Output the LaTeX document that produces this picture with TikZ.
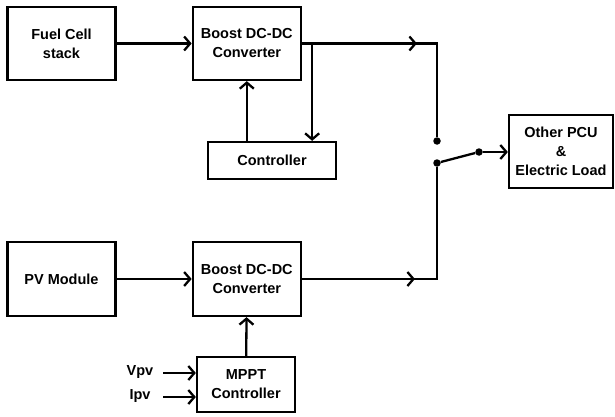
\documentclass[tikz,border=0pt]{standalone}
\usepackage{fontspec}
\setmainfont{Liberation Sans}
\usetikzlibrary{arrows.meta, positioning, calc, decorations.markings}

\begin{document}
\begin{tikzpicture}[
    x=1pt, y=-1pt,
    node distance=75pt and 75pt,
    blok/.style={draw, line width=2.3pt, minimum height=73pt, minimum width=108pt,
                 align=center, font=\fontsize{14.5}{19}\selectfont\bfseries, inner sep=2pt},
    label/.style={font=\fontsize{14.5}{19}\selectfont\bfseries, inner sep=0pt},
    panah/.style={-{Straight Barb[length=6pt, width=14pt, line width=2.3pt]}, line width=2.3pt},
    garis/.style={line width=2.3pt},
    tengah/.style={postaction={decorate}, decoration={markings,
        mark=at position #1 with {\arrow{Straight Barb[length=6pt, width=14pt, line width=2.3pt]}}}},
    titik/.style={circle, fill, inner sep=0pt, minimum size=7.5pt}
  ]
    \useasboundingbox (0,0) rectangle (615,417);
    % top branch
    \node[blok] (fc) at (61.5,43.5) {Fuel Cell\\stack};
    \node[blok, right=of fc] (bst1) {Boost DC-DC\\Converter};
    \node[blok, minimum width=128pt, minimum height=37pt] (ctrl) at (272,160.5) {Controller};
    % bottom branch
    \node[blok, minimum height=74pt] (pv) at (61.5,279) {PV Module};
    \node[blok, minimum height=74pt, right=of pv] (bst2) {Boost DC-DC\\Converter};
    \node[blok, minimum width=98pt, minimum height=55pt] (mppt) at (246,384.5) {MPPT\\Controller};
    \node[label] (vpv) at (140,372) {Vpv};
    \node[label] (ipv) at (140,396) {Ipv};
    % load
    \node[blok, minimum width=104pt] (load) at (561,151.5) {Other PCU\\\&\\Electric Load};
    % switch
    \node[titik] (sw1) at (437,141) {};
    \node[titik] (sw2) at (437,163) {};
    \node[titik] (sw3) at (479,152) {};
    \coordinate (v1) at (163,373);
    \coordinate (i1) at (163,397);

    \draw[panah] (fc) -- (bst1);
    \draw[panah] (pv) -- (bst2);
    \draw[garis, tengah=115pt] (bst1.east) -- (bst1.east -| sw1) -- (sw1);
    \draw[garis, tengah=113pt] (bst2.east) -- (bst2.east -| sw2) -- (sw2);
    \draw[panah] (bst1.east -| ctrl.north east) ++(-25pt,0) coordinate (br) -- (br |- ctrl.north);
    \draw[panah] (ctrl.north -| bst1) -- (bst1.south);
    \draw[panah] (mppt) -- (bst2);
    \draw[garis] (sw2) -- (sw3);
    \draw[panah] (sw3) -- (load.west |- sw3);
    \draw[panah] (v1) -- (v1 -| mppt.west);
    \draw[panah] (i1) -- (i1 -| mppt.west);
  \end{tikzpicture}
\end{document}
